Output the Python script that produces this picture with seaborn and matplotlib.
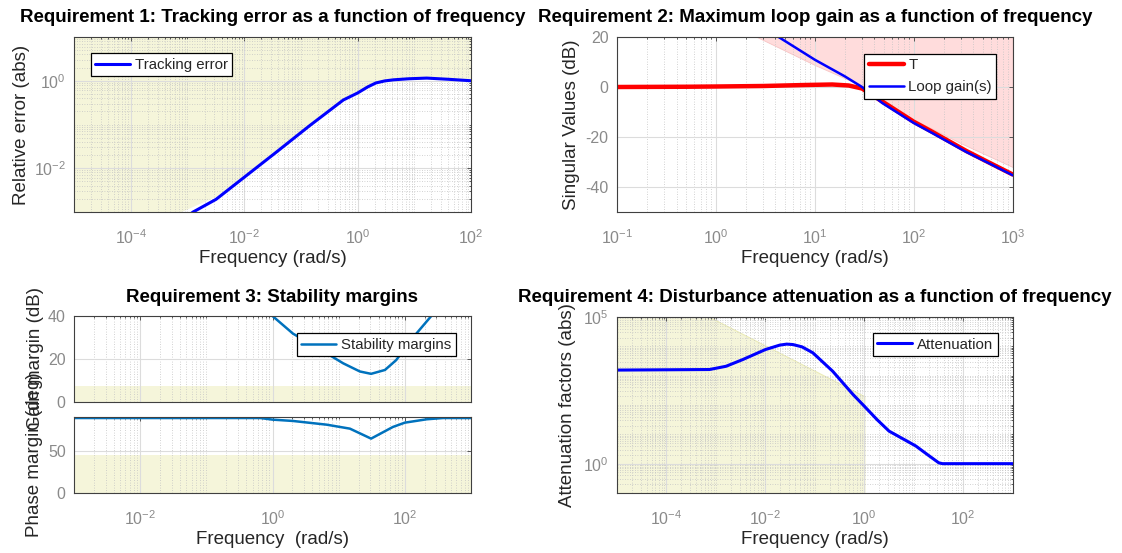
import matplotlib
matplotlib.use("Agg")
import matplotlib.pyplot as plt
import matplotlib.ticker as mticker
import numpy as np
import pandas as pd
import seaborn as sns

# ---------------- data ----------------
# Requirement 1: tracking error (abs) vs frequency (rad/s)
track_freq = [1.0e-3, 1.26e-3, 3.2e-3, 1.0e-2, 3.7e-2, 0.145, 0.316, 0.56, 1.0, 1.5, 2.1, 3.0, 4.3, 8.0, 16.6, 40, 100]
track_err = [8.0e-4, 1.0e-3, 1.95e-3, 6.2e-3, 0.0234, 0.0955, 0.206, 0.363, 0.525, 0.72, 0.89, 0.99, 1.05, 1.11, 1.15, 1.08, 1.0]
track_bound_freq = [1e-5, 7.4e-4, 3.2e-3, 1e-2, 3.7e-2, 0.145, 0.56, 1.0, 2.1, 4.3, 16.6, 100]
track_bound = [1.0e-6, 1.0e-3, 2.3e-3, 7.2e-3, 0.027, 0.11, 0.41, 0.6, 0.97, 1.12, 1.2, 1.06]

# Requirement 2: singular values (dB)
T_freq = [0.1, 0.5, 1, 3, 8, 15, 22, 30, 48, 100, 155, 340, 575, 1000]
T_db = [0.0, 0.1, 0.2, 0.4, 0.8, 1.0, 0.6, -0.6, -5.8, -13.9, -18.0, -25.6, -30.2, -35.0]
L_freq = [4.3, 10, 20, 30, 48, 100, 155, 340, 575, 1000]
L_db = [20.0, 10.9, 4.3, 0.0, -6.4, -14.4, -18.5, -26.0, -30.5, -35.3]
gain_bound_freq = [2.6, 10, 30, 100, 300, 1000]
gain_bound_db = [20, 8.8, 0.5, -13.0, -22.5, -32.0]

# Requirement 3: stability margins
gm_freq = [1.0, 2.04, 6.6, 11.7, 20.9, 30.9, 50.1, 74.1, 129, 251]
gm_db = [40, 31.8, 22.6, 18.0, 14.2, 13.1, 14.9, 19.5, 29.5, 40]
pm_freq = [1e-3, 0.65, 1.0, 2.04, 6.6, 14.8, 30.9, 66, 100, 214, 380, 1000]
pm_deg = [88.8, 88.8, 86.9, 85.3, 80.9, 76.2, 64.4, 78.2, 83.3, 87.3, 88.8, 88.8]
gm_req = 7.6
pm_req = 45

# Requirement 4: disturbance attenuation
att_freq = [1e-5, 7.4e-4, 1.6e-3, 3.5e-3, 1e-2, 1.95e-2, 2.7e-2, 3.6e-2, 5.5e-2, 9.1e-2, 0.23, 0.59, 1.0,
            1.8, 3.16, 11, 20, 32, 38, 1000]
att_val = [1550, 1620, 2090, 3550, 7760, 11000, 11900, 11500, 9600, 6030, 1410, 229, 91,
           32, 12.9, 4.0, 1.9, 1.07, 1.0, 1.0]
att_bound_freq = [1e-5, 7.4e-4, 1.0]
att_bound = [1e5, 1e5, 200]

titles = ["Requirement 1: Tracking error as a function of frequency",
          "Requirement 2: Maximum loop gain as a function of frequency",
          "Requirement 3: Stability margins",
          "Requirement 4: Disturbance attenuation as a function of frequency"]

# ---------------- style ----------------
sns.set_style("whitegrid")
plt.rcParams["font.family"] = ["Liberation Sans", "DejaVu Sans"]
plt.rcParams["mathtext.fontset"] = "custom"
plt.rcParams["mathtext.rm"] = "Liberation Sans"
plt.rcParams["axes.unicode_minus"] = False

TICK_C = "#8a8a8a"
SPINE_C = "#404040"
LABEL_C = "#262626"
YELLOW = "#f5f5da"
PINK = "#ffdcdc"

W, H = 1122, 553
fig = plt.figure(figsize=(W / 100, H / 100), dpi=100)


def rect(l, t, r, b):
    return [l / W, 1 - b / H, (r - l) / W, (b - t) / H]


ax1 = fig.add_axes(rect(74, 37, 471, 212))
ax2 = fig.add_axes(rect(617, 37, 1012.7, 212))
ax3a = fig.add_axes(rect(74, 316, 471, 402))
ax3b = fig.add_axes(rect(74, 417, 471, 493))
ax4 = fig.add_axes(rect(617, 317, 1012.7, 493))


def style(ax, xmajor, xlog=True, ymajor=None, ylog=False):
    ax.set_axisbelow("line")
    if xlog:
        ax.set_xscale("log")
        ax.xaxis.set_major_locator(mticker.FixedLocator(xmajor))
        ax.xaxis.set_major_formatter(mticker.LogFormatterSciNotation())
        ax.xaxis.set_minor_locator(mticker.LogLocator(base=10, subs=np.arange(1, 10), numticks=100))
        ax.xaxis.set_minor_formatter(mticker.NullFormatter())
    if ylog:
        ax.set_yscale("log")
        ax.yaxis.set_major_locator(mticker.FixedLocator(ymajor))
        ax.yaxis.set_major_formatter(mticker.LogFormatterSciNotation())
        ax.yaxis.set_minor_locator(mticker.LogLocator(base=10, subs=np.arange(1, 10), numticks=100))
        ax.yaxis.set_minor_formatter(mticker.NullFormatter())
    elif ymajor is not None:
        ax.yaxis.set_major_locator(mticker.FixedLocator(ymajor))
    ax.grid(True, which="major", color="#dcdcdc", lw=0.8, ls="-")
    ax.grid(True, which="minor", axis="x", color="#c4c4c4", lw=0.6, ls=(0, (1, 2)))
    if ylog:
        ax.grid(True, which="minor", axis="y", color="#c4c4c4", lw=0.6, ls=(0, (1, 2)))
    ax.tick_params(which="both", direction="in", top=True, right=True, colors=SPINE_C,
                   labelcolor=TICK_C, labelsize=11.5, width=0.6)
    ax.tick_params(axis="x", which="major", pad=12)
    ax.tick_params(axis="y", which="major", pad=6)
    ax.tick_params(which="major", length=3)
    ax.tick_params(which="minor", length=1.5)
    for s in ax.spines.values():
        s.set_color(SPINE_C)
        s.set_linewidth(0.8)
    ax.set_facecolor("white")


def legend(ax, loc, anchor, spacing=0.15):
    leg = ax.legend(loc=loc, bbox_to_anchor=anchor, borderaxespad=0, fontsize=10.8,
                    frameon=True, fancybox=False, framealpha=1, edgecolor="black",
                    handlelength=2.35, handletextpad=0.3, borderpad=0.3, labelspacing=spacing)
    leg.get_frame().set_linewidth(0.9)
    return leg


# ---- Requirement 1 ----
ax1.fill_between(track_bound_freq, track_bound, 1e2, color=YELLOW, lw=0, zorder=1)
sns.lineplot(x=track_freq, y=track_err, ax=ax1, color="#0000ff", lw=2.2,
             label="Tracking error", estimator=None, sort=False)
style(ax1, [1e-4, 1e-2, 1e0, 1e2], ymajor=[1e-2, 1e0], ylog=True)
ax1.set_xlim(1e-5, 1e2)
ax1.set_ylim(1e-3, 1e1)
legend(ax1, "upper left", (0.042, 0.907))

# ---- Requirement 2 ----
ax2.fill_between(gain_bound_freq, gain_bound_db, 40, color=PINK, lw=0.6, edgecolor="#f7c4c4", zorder=1)
sns.lineplot(x=T_freq, y=T_db, ax=ax2, color="#ff0000", lw=3.2, label="T", estimator=None, sort=False)
sns.lineplot(x=L_freq, y=L_db, ax=ax2, color="#0000ff", lw=1.8, label="Loop gain(s)", estimator=None, sort=False)
style(ax2, [1e-1, 1e0, 1e1, 1e2, 1e3], ymajor=[-40, -20, 0, 20])
ax2.set_xlim(1e-1, 1e3)
ax2.set_ylim(-50, 20)
legend(ax2, "upper right", (0.959, 0.905), spacing=0.55)

# ---- Requirement 3 ----
ax3a.axhspan(0, gm_req, color=YELLOW, lw=0, zorder=1)
ax3b.axhspan(0, pm_req, color=YELLOW, lw=0, zorder=1)
sns.lineplot(x=gm_freq, y=gm_db, ax=ax3a, color="#0072bd", lw=1.8, label="Stability margins",
             estimator=None, sort=False)
sns.lineplot(x=pm_freq, y=pm_deg, ax=ax3b, color="#0072bd", lw=1.8, estimator=None, sort=False,
             legend=False)
for a in (ax3a, ax3b):
    style(a, [1e-2, 1e0, 1e2])
    a.set_xlim(1e-3, 1e3)
ax3a.set_ylim(0, 40)
ax3a.yaxis.set_major_locator(mticker.FixedLocator([0, 20, 40]))
ax3a.tick_params(labelbottom=False)
ax3b.set_ylim(0, 90)
ax3b.yaxis.set_major_locator(mticker.FixedLocator([0, 50]))
legend(ax3a, "upper right", (0.961, 0.797))

# ---- Requirement 4 ----
ax4.fill_between(att_bound_freq, 0.1, att_bound, color=YELLOW, lw=0.8, edgecolor="#ebebb8", zorder=1)
sns.lineplot(x=att_freq, y=att_val, ax=ax4, color="#0000ff", lw=2.2, label="Attenuation",
             estimator=None, sort=False)
style(ax4, [1e-4, 1e-2, 1e0, 1e2], ymajor=[1e0, 1e5], ylog=True)
ax4.set_xlim(1e-5, 1e3)
ax4.set_ylim(1e-1, 1e5)
legend(ax4, "upper right", (0.962, 0.909))

# ---- labels & titles ----
lab_kw = dict(fontsize=13.5, color=LABEL_C)
ax1.set_xlabel("Frequency (rad/s)", labelpad=2, **lab_kw)
ax2.set_xlabel("Frequency (rad/s)", labelpad=2, **lab_kw)
ax3a.set_xlabel("")
ax3b.set_xlabel("Frequency  (rad/s)", labelpad=2, **lab_kw)
ax4.set_xlabel("Frequency (rad/s)", labelpad=2, **lab_kw)

for ax, txt, xpx in [(ax1, "Relative error (abs)", 21), (ax2, "Singular Values (dB)", 571),
                     (ax3a, "Gain margin (dB)", 35), (ax3b, "Phase margin (deg)", 35),
                     (ax4, "Attenuation factors (abs)", 567)]:
    ax.set_ylabel(txt, **lab_kw)
    bb = ax.get_position()
    ax.yaxis.label.set_va("center")
    ax.yaxis.set_label_coords((xpx / W - bb.x0) / bb.width, 0.5)

title_kw = dict(fontsize=13.5, fontweight="bold", color="black", ha="center", va="center")
fig.text((74 + 471) / 2 / W, 1 - 17 / H, titles[0], **title_kw)
fig.text((617 + 1012.7) / 2 / W, 1 - 17 / H, titles[1], **title_kw)
fig.text((74 + 471) / 2 / W, 1 - 297 / H, titles[2], **title_kw)
fig.text((617 + 1012.7) / 2 / W, 1 - 297 / H, titles[3], **title_kw)

fig.savefig("out.png", dpi=100, facecolor="white")
